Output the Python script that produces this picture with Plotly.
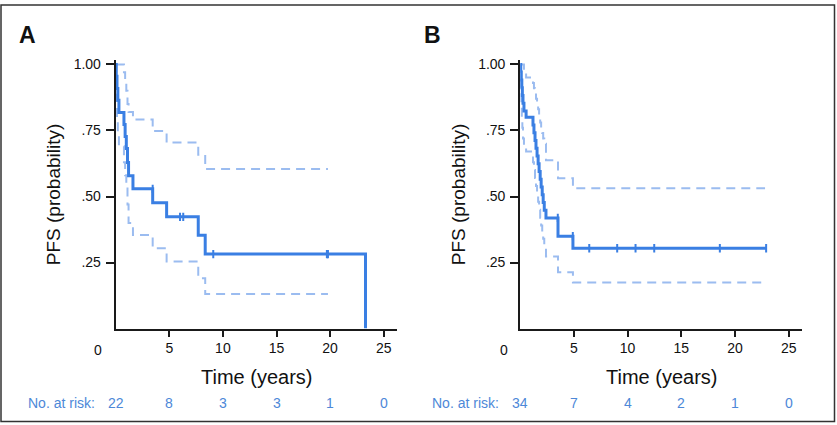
import plotly.graph_objects as go

W, H = 837, 425

# ---------------- data ----------------
# Panel A: Kaplan-Meier step times and survival values
a_times = [0, 0.05, 0.12, 0.2, 0.3, 0.77, 0.88, 0.99, 1.1, 1.2, 1.61, 3.45, 4.75, 7.7, 8.35, 23.3]
a_surv = [1.0, 0.955, 0.909, 0.864, 0.818, 0.773, 0.727, 0.682, 0.629, 0.579, 0.529, 0.476, 0.423, 0.353, 0.282, 0.0]
a_end = 23.3
a_upper = [1.0, 1.0, 1.0, 1.0, 1.0, 0.97, 0.94, 0.90, 0.85, 0.82, 0.791, 0.748, 0.704, 0.658, 0.604]
a_lower = [1.0, 0.87, 0.80, 0.74, 0.69, 0.63, 0.58, 0.53, 0.47, 0.40, 0.354, 0.304, 0.254, 0.191, 0.131]
a_ci_end = 19.8
a_cens_t = [3.45, 6.0, 6.3, 9.1, 19.7, 19.8]
a_cens_s = [0.529, 0.423, 0.423, 0.282, 0.282, 0.282]
a_risk = ["22", "8", "3", "3", "1", "0"]

# Panel B
b_times = [0, 0.05, 0.1, 0.15, 0.2, 0.26, 0.35, 0.55, 1.19, 1.28, 1.38, 1.47, 1.57, 1.67, 1.76,
           1.86, 1.95, 2.05, 2.14, 2.24, 2.4, 3.52, 4.91]
b_surv = [1.0, 0.971, 0.941, 0.912, 0.882, 0.853, 0.824, 0.80, 0.771, 0.741, 0.712, 0.683, 0.653,
          0.624, 0.595, 0.565, 0.536, 0.507, 0.477, 0.448, 0.419, 0.35, 0.304]
b_end = 22.9
b_upper = [1.0, 1.0, 1.0, 1.0, 1.0, 1.0, 0.97, 0.95, 0.93, 0.91, 0.89, 0.87, 0.85, 0.83, 0.80,
           0.78, 0.76, 0.74, 0.72, 0.70, 0.637, 0.569, 0.531]
b_lower = [1.0, 0.91, 0.85, 0.80, 0.76, 0.72, 0.69, 0.67, 0.63, 0.60, 0.57, 0.54, 0.51, 0.48, 0.45,
           0.42, 0.39, 0.36, 0.34, 0.31, 0.273, 0.213, 0.175]
b_ci_end = 22.8
b_cens_t = [3.5, 4.9, 6.43, 9.03, 10.74, 12.48, 18.59, 22.9]
b_cens_s = [0.419, 0.35, 0.304, 0.304, 0.304, 0.304, 0.304, 0.304]
b_risk = ["34", "7", "4", "2", "1", "0"]

risk_times = [0, 5, 10, 15, 20, 25]
x_ticks = [5, 10, 15, 20, 25]
y_ticks = [0.25, 0.5, 0.75, 1.0]
y_ticktext = [".25", ".50", ".75", "1.00"]

# ---------------- style ----------------
MAIN = "#3a7fe3"
CI = "#9bbcf0"
RISK = "#4d88d8"
FONT = "Liberation Sans, Arial, sans-serif"


def px_x(p):
    return p / W


def px_y(p):
    return 1 - p / H


fig = go.Figure()

panels = [
    dict(times=a_times, surv=a_surv, end=a_end, up=a_upper, lo=a_lower, ci_end=a_ci_end,
         ct=a_cens_t, cs=a_cens_s, risk=a_risk, xa="x", ya="y",
         dom=[115.7, 397.0], label="A", label_x=27, zero_x=98, ytitle_x=53,
         risk_label_right=97),
    dict(times=b_times, surv=b_surv, end=b_end, up=b_upper, lo=b_lower, ci_end=b_ci_end,
         ct=b_cens_t, cs=b_cens_s, risk=b_risk, xa="x2", ya="y2",
         dom=[520.2, 802.0], label="B", label_x=432, zero_x=504, ytitle_x=458,
         risk_label_right=501),
]

annotations = []


def ann(text, x, y, xref="paper", size=14, color="#111", xanchor="center", **kw):
    annotations.append(dict(text=text, x=x, y=y, xref=xref, yref="paper", showarrow=False,
                            xanchor=xanchor, yanchor="middle",
                            font=dict(size=size, color=color, family=FONT), **kw))


for p in panels:
    n_ci = len(p["up"])
    ci_t = p["times"][:n_ci] + [p["ci_end"]]
    for ci in (p["up"], p["lo"]):
        fig.add_trace(go.Scatter(x=ci_t, y=ci + [ci[-1]], mode="lines", line_shape="hv",
                                 line=dict(color=CI, width=2, dash="9px,6px"),
                                 xaxis=p["xa"], yaxis=p["ya"], showlegend=False, hoverinfo="skip"))
    fig.add_trace(go.Scatter(x=p["times"] + [p["end"]], y=p["surv"] + [p["surv"][-1]],
                             mode="lines", line_shape="hv", line=dict(color=MAIN, width=3),
                             xaxis=p["xa"], yaxis=p["ya"], showlegend=False))
    fig.add_trace(go.Scatter(x=p["ct"], y=p["cs"], mode="markers",
                             marker=dict(symbol="line-ns", size=6, line=dict(color=MAIN, width=2)),
                             xaxis=p["xa"], yaxis=p["ya"], showlegend=False))

    ann("<b>%s</b>" % p["label"], px_x(p["label_x"]), px_y(31), size=23)
    ann("0", px_x(p["zero_x"]), px_y(349))
    ann("Time (years)", (p["dom"][0] + p["dom"][1]) / 2 / W, px_y(377), size=20)
    ann("PFS (probability)", px_x(p["ytitle_x"]), px_y(192), size=19, textangle=-90)
    ann("No. at risk:", px_x(p["risk_label_right"]), px_y(403), color=RISK, xanchor="right")
    for t, r in zip(risk_times, p["risk"]):
        ann(r, t, px_y(403), xref=p["xa"], color=RISK)

ydom = [px_y(327.7), px_y(56.7)]
axis_common = dict(showgrid=False, zeroline=False, showline=True, linecolor="#1a1a1a",
                   linewidth=2, ticks="outside", tickwidth=1.5, tickcolor="#1a1a1a",
                   tickfont=dict(size=14, color="#111", family=FONT))

fig.update_layout(
    width=W, height=H, margin=dict(l=0, r=0, t=0, b=0),
    paper_bgcolor="white", plot_bgcolor="white", showlegend=False,
    xaxis=dict(domain=[px_x(115.7), px_x(397.0)], range=[0, 26.24], tickvals=x_ticks,
               anchor="y", ticklen=6, **axis_common),
    yaxis=dict(domain=ydom, range=[0, 1.016], tickvals=y_ticks, ticktext=y_ticktext,
               anchor="x", ticklen=8, ticklabelstandoff=2, **axis_common),
    xaxis2=dict(domain=[px_x(520.2), px_x(802.0)], range=[0, 26.24], tickvals=x_ticks,
                anchor="y2", ticklen=6, **axis_common),
    yaxis2=dict(domain=ydom, range=[0, 1.016], tickvals=y_ticks, ticktext=y_ticktext,
                anchor="x2", ticklen=8, ticklabelstandoff=2, **axis_common),
    annotations=annotations,
    shapes=[dict(type="rect", xref="paper", yref="paper", x0=px_x(1), x1=px_x(834.5),
                 y0=px_y(421.5), y1=px_y(1), line=dict(color="#333", width=1.5))],
)

fig.write_html("out.html", config={"displayModeBar": False},
               post_script="document.body.style.margin='0px';document.body.style.overflow='hidden';")
